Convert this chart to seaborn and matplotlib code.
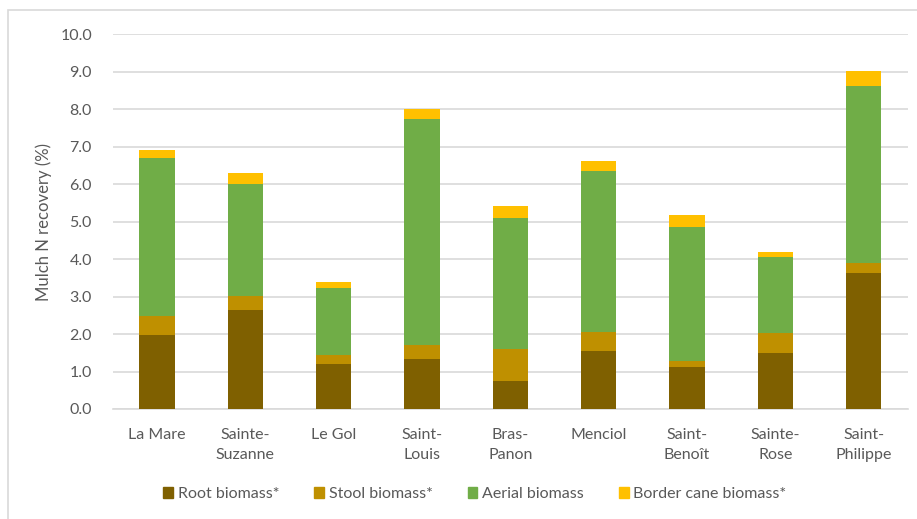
import numpy as np
import pandas as pd
import seaborn as sns
import matplotlib.pyplot as plt

# Data
sites = ["La Mare", "Sainte-\nSuzanne", "Le Gol", "Saint-\nLouis", "Bras-\nPanon",
         "Menciol", "Saint-\nBenoît", "Sainte-\nRose", "Saint-\nPhilippe"]
root = [1.97, 2.64, 1.21, 1.34, 0.75, 1.55, 1.13, 1.49, 3.63]
stool = [0.52, 0.37, 0.23, 0.36, 0.84, 0.51, 0.15, 0.55, 0.26]
aerial = [4.22, 3.00, 1.80, 6.03, 3.50, 4.28, 3.58, 2.01, 4.72]
border = [0.20, 0.30, 0.16, 0.27, 0.34, 0.29, 0.31, 0.14, 0.41]

components = ["Root biomass*", "Stool biomass*", "Aerial biomass", "Border cane biomass*"]
colors = ["#7F6000", "#BF9000", "#70AD47", "#FFC000"]

# Cumulative tops for stacking
tops = np.cumsum(np.array([root, stool, aerial, border]), axis=0)

sns.set_style("white")
plt.rcParams["font.family"] = ["Lato", "DejaVu Sans"]

fig = plt.figure(figsize=(9.17, 5.19), dpi=100)
ax = fig.add_axes([0.123, 0.212, 0.867, 0.722])

# Draw from the tallest layer down so each layer covers the one above it
for i in range(3, -1, -1):
    df = pd.DataFrame({"site": sites, "value": tops[i]})
    sns.barplot(data=df, x="site", y="value", color=colors[i], width=0.4,
                saturation=1, ax=ax, zorder=3, edgecolor="none")

ax.set_ylim(0, 10)
ax.set_xlim(-0.5, len(sites) - 0.5)
ax.set_yticks(np.arange(0, 10.1, 1))
ax.set_yticklabels([f"{v:.1f}" for v in np.arange(0, 10.1, 1)])
ax.yaxis.grid(True, color="#d9d9d9", linewidth=1.2, zorder=0)
ax.set_axisbelow(True)
for s in ["top", "right", "left"]:
    ax.spines[s].set_visible(False)
ax.spines["bottom"].set_color("#d9d9d9")
ax.spines["bottom"].set_linewidth(1.2)

ax.set_xticks(np.arange(-0.5, len(sites), 1), minor=True)
ax.set_xticks(np.arange(len(sites)))
ax.set_xticklabels(sites, linespacing=1.5)
ax.tick_params(axis="x", which="major", length=0, pad=14, labelsize=11.5, labelcolor="#595959")
ax.tick_params(axis="x", which="minor", length=6, color="#d9d9d9", width=1.2)
ax.tick_params(axis="y", length=0, pad=15, labelsize=11.5, labelcolor="#595959")
ax.set_xlabel("")
ax.set_ylabel("Mulch N recovery (%)", fontsize=12, color="#595959", labelpad=6)

handles = [plt.Rectangle((0, 0), 1, 1, color=c) for c in colors]
fig.legend(handles, components, loc="center", bbox_to_anchor=(0.518, 0.048), ncol=4,
           frameon=False, fontsize=11.5, labelcolor="#595959", handlelength=0.6,
           handleheight=0.6, handletextpad=0.3, columnspacing=2.2)

# Chart border
fig.patches.append(plt.Rectangle((0.009, -0.01), 1.0, 0.99, transform=fig.transFigure,
                                 fill=False, edgecolor="#d9d9d9", linewidth=1.2))

fig.savefig("out.png", dpi=100)
